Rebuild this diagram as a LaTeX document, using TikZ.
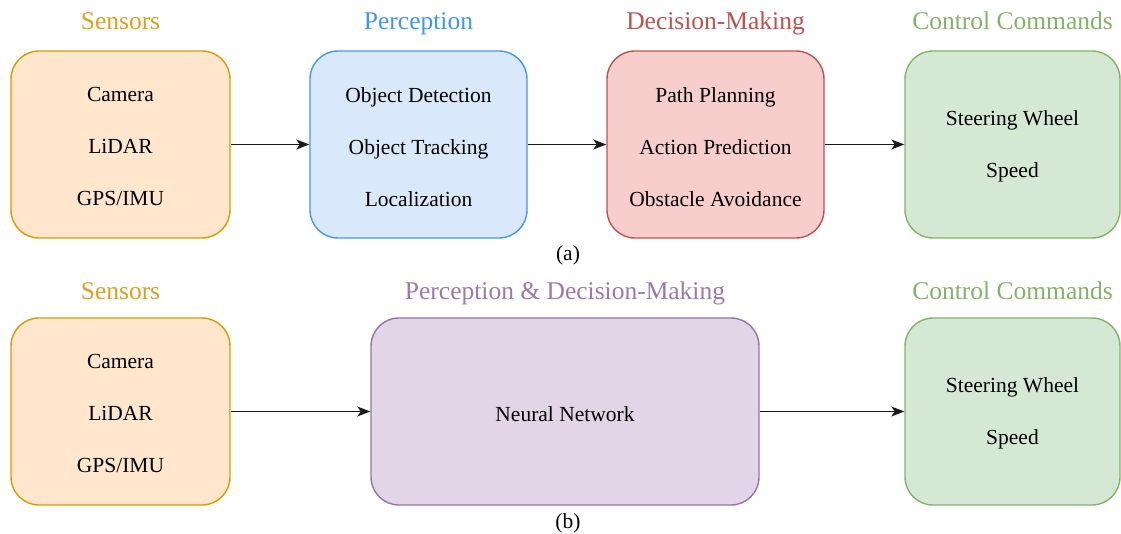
\documentclass[tikz,border=0pt]{standalone}
\usepackage{fontspec}
\setmainfont{Liberation Serif}
\usetikzlibrary{arrows.meta}

\definecolor{orgFill}{HTML}{FFE6CC}
\definecolor{orgLine}{HTML}{D79B00}
\definecolor{orgText}{HTML}{D9A21F}
\definecolor{bluFill}{HTML}{DAE8FC}
\definecolor{bluLine}{HTML}{4497EE}
\definecolor{bluText}{HTML}{3D97F5}
\definecolor{redFill}{HTML}{F8CECC}
\definecolor{redLine}{HTML}{B85450}
\definecolor{redText}{HTML}{C0504D}
\definecolor{grnFill}{HTML}{D5E8D4}
\definecolor{grnLine}{HTML}{82B366}
\definecolor{grnText}{HTML}{82B366}
\definecolor{purFill}{HTML}{E1D5E7}
\definecolor{purLine}{HTML}{9673A6}
\definecolor{purText}{HTML}{9A78B0}
\definecolor{arrowInk}{HTML}{1A1A1A}

\tikzset{
  stage/.style={rounded corners=28pt, line width=1.4pt,
    minimum height=187pt, inner sep=0pt},
  items/.style={align=center, inner sep=0pt, yshift=-2.2pt,
    font=\fontsize{21.5}{52}\selectfont},
  heading/.style={font=\fontsize{25.5}{30}\selectfont, inner sep=0pt, anchor=base},
  caption/.style={font=\fontsize{21.5}{26}\selectfont, inner sep=0pt, anchor=base},
  flow/.style={draw=arrowInk, line width=1.5pt,
    -{Stealth[length=13pt,width=10pt,inset=3.5pt]}}
}

\begin{document}
\begin{tikzpicture}[x=1pt, y=-1pt]
\useasboundingbox (0,0) rectangle (1121,534);

% ---- (a) modular pipeline ----
\node[stage, fill=orgFill, draw=orgLine, minimum width=219pt] (sa) at (120.5,144.5) {};
\node[stage, fill=bluFill, draw=bluLine, minimum width=217pt] (pa) at (418.5,144.5) {};
\node[stage, fill=redFill, draw=redLine, minimum width=217pt] (da) at (715.5,144.5) {};
\node[stage, fill=grnFill, draw=grnLine, minimum width=215pt] (ca) at (1012.5,144.5) {};

\node[items] (sa-txt) at (sa) {Camera\\LiDAR\\GPS/IMU};
\node[items] (pa-txt) at (pa) {Object Detection\\Object Tracking\\Localization};
\node[items] (da-txt) at (da) {Path Planning\\Action Prediction\\Obstacle Avoidance};
\node[items] (ca-txt) at (ca) {Steering Wheel\\Speed};

\node[heading, text=orgText] (tsa) at (120.5,30) {Sensors};
\node[heading, text=bluText] (tpa) at (418.5,30) {Perception};
\node[heading, text=redText] (tda) at (715.5,30) {Decision-Making};
\node[heading, text=grnText] (tca) at (1012.5,30) {Control Commands};

\draw[flow] (sa.east) -- (pa.west);
\draw[flow] (pa.east) -- (da.west);
\draw[flow] (da.east) -- (ca.west);

\node[caption] (capa) at (568,261) {(a)};

% ---- (b) end-to-end pipeline ----
\node[stage, fill=orgFill, draw=orgLine, minimum width=219pt] (sb) at (120.5,411.5) {};
\node[stage, fill=purFill, draw=purLine, minimum width=388pt] (nb) at (565,411.5) {};
\node[stage, fill=grnFill, draw=grnLine, minimum width=215pt] (cb) at (1012.5,411.5) {};

\node[items] (sb-txt) at (sb) {Camera\\LiDAR\\GPS/IMU};
\node[items] (nb-txt) at (nb) {Neural Network};
\node[items] (cb-txt) at (cb) {Steering Wheel\\Speed};

\node[heading, text=orgText] (tsb) at (120.5,299.5) {Sensors};
\node[heading, text=purText] (tnb) at (565,299.5) {Perception \& Decision-Making};
\node[heading, text=grnText] (tcb) at (1012.5,299.5) {Control Commands};

\draw[flow] (sb.east) -- (nb.west);
\draw[flow] (nb.east) -- (cb.west);

\node[caption] (capb) at (568,528) {(b)};
\end{tikzpicture}
\end{document}
